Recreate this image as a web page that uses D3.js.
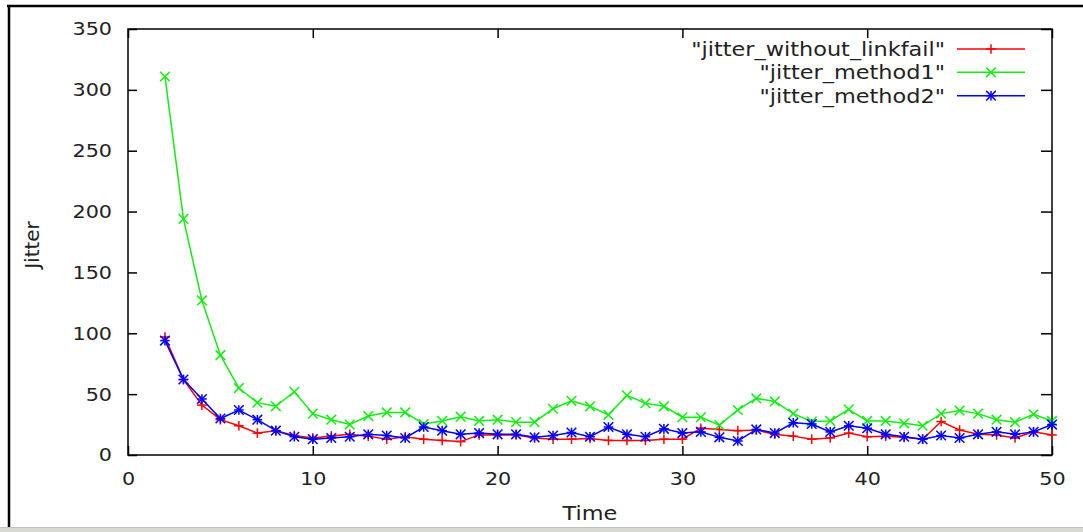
<!DOCTYPE html>
<html>
<head>
<meta charset="utf-8">
<script src="https://cdn.jsdelivr.net/npm/d3@7"></script>
<style>
  html, body { margin: 0; padding: 0; background: #fff; }
  svg { display: block; }
  text { font-family: "DejaVu Sans", sans-serif; fill: #222; }
</style>
</head>
<body>
<svg id="chart" width="1083" height="532"></svg>
<script>
// ---- data ----
const times = [2,3,4,5,6,7,8,9,10,11,12,13,14,15,16,17,18,19,20,21,22,23,24,25,26,27,28,29,30,31,32,33,34,35,36,37,38,39,40,41,42,43,44,45,46,47,48,49,50];
const jitterWithoutLinkfail = [97,62,41,29,24,18,20,16,14,15.6,17,15.5,13,15,13,12,11,16.5,16.5,16.5,14,13,13,13.5,12,12,12,13,13,22,21,20,20.5,17,15.5,13,14,18,15,15.5,14.5,13,27.5,20.5,17,16.5,14,19,16.5];
const jitterMethod1 = [311,194,127,82,55,43,40,52,34,29,25,32,35,35,25.5,28,31.5,28,29,27,27,38,44.5,40,33,49,42.5,40,31,31,24.5,37,46.5,44,34,27.5,28,37.5,28,28,26,24,34,36.5,34,29,27,33.5,28];
const jitterMethod2 = [94,62,46,30,37,29,20,15,13,14,15,17,16,14,23,20,17,18,17,17,14.5,16,18.5,15,23,17,15,21.5,18,19,14.5,11.5,21,18,26.5,25.5,19,24,22,17,15,13,16,14,17,19,17,19,25];
const seriesNames = ['"jitter_without_linkfail"', '"jitter_method1"', '"jitter_method2"'];
const seriesColors = ["#ff0000", "#11ee11", "#0000ff"];
const seriesMarkers = ["plus", "cross", "star"];
const xTicks = [0,10,20,30,40,50];
const yTicks = [0,50,100,150,200,250,300,350];
const xLabel = "Time";
const yLabel = "Jitter";

// ---- layout ----
const svg = d3.select("#chart");
const L = 128, R = 1052, T = 29, B = 455;
const x = d3.scaleLinear().domain([0, 50]).range([L, R]);
const y = d3.scaleLinear().domain([0, 350]).range([B, T]);
const SX = 1.12; // horizontal stretch of the text in the reference

// outer frame of the screenshot
svg.append("rect").attr("x", 0).attr("y", 527).attr("width", 1083).attr("height", 5).attr("fill", "#d9d9d4");
svg.append("line").attr("x1", 0).attr("x2", 1083).attr("y1", 527.5).attr("y2", 527.5).attr("stroke", "#c4c4bf").attr("stroke-width", 1);
svg.append("line").attr("x1", 7).attr("x2", 1083).attr("y1", 6).attr("y2", 6).attr("stroke", "#000").attr("stroke-width", 2.5);
svg.append("line").attr("x1", 9).attr("x2", 9).attr("y1", 5).attr("y2", 527).attr("stroke", "#000").attr("stroke-width", 2.5);

// axes (ticks point inward, gnuplot style)
const gLeft = svg.append("g").attr("transform", `translate(${L},0)`)
  .call(d3.axisLeft(y).tickValues(yTicks).tickSize(-9).tickPadding(16).tickFormat(d3.format("d")));
const gRight = svg.append("g").attr("transform", `translate(${R},0)`)
  .call(d3.axisRight(y).tickValues(yTicks).tickSize(-11).tickFormat(""));
const gBottom = svg.append("g").attr("transform", `translate(0,${B})`)
  .call(d3.axisBottom(x).tickValues(xTicks).tickSize(-9).tickPadding(17).tickFormat(d3.format("d")));
const gTop = svg.append("g").attr("transform", `translate(0,${T})`)
  .call(d3.axisTop(x).tickValues(xTicks).tickSize(-9).tickFormat(""));
[gLeft, gRight, gBottom, gTop].forEach(g => {
  g.select(".domain").remove();
  g.selectAll(".tick line").attr("stroke", "#000").attr("stroke-width", 1.5);
  g.selectAll(".tick text").attr("font-family", "DejaVu Sans").attr("font-size", 18.5).attr("fill", "#222");
});
gLeft.selectAll(".tick text").attr("x", -16 / SX).attr("transform", `scale(${SX},1)`);
gBottom.selectAll(".tick text").attr("transform", `scale(${SX},1)`);

// plot frame
svg.append("rect").attr("x", L).attr("y", T).attr("width", R - L).attr("height", B - T)
  .attr("fill", "none").attr("stroke", "#000").attr("stroke-width", 1.5);

// axis labels
svg.append("text").attr("transform", `translate(${(L + R) / 2},520) scale(${SX},1)`)
  .attr("text-anchor", "middle").attr("font-size", 20).text(xLabel);
svg.append("text").attr("transform", `translate(39,245) rotate(-90)`)
  .attr("text-anchor", "middle").attr("font-size", 20).text(yLabel);

// markers
function marker(sel, type, cx, cy, color) {
  const s = 4.8;
  const g = sel.append("g").attr("transform", `translate(${cx},${cy})`)
    .attr("stroke", color).attr("stroke-width", 1.5).attr("fill", "none");
  const segs = [];
  if (type === "plus" || type === "star") { segs.push([-s,0,s,0]); segs.push([0,-s,0,s]); }
  if (type === "cross" || type === "star") { segs.push([-s,-s,s,s]); segs.push([-s,s,s,-s]); }
  segs.forEach(p => g.append("line").attr("x1", p[0]).attr("y1", p[1]).attr("x2", p[2]).attr("y2", p[3]));
}

const allSeries = [jitterWithoutLinkfail, jitterMethod1, jitterMethod2];
const line = d3.line().x((d, i) => x(times[i])).y(d => y(d));
const plot = svg.append("g");
allSeries.forEach((vals, k) => {
  plot.append("path").datum(vals).attr("d", line)
    .attr("fill", "none").attr("stroke", seriesColors[k]).attr("stroke-width", 1.5);
  vals.forEach((v, i) => marker(plot, seriesMarkers[k], x(times[i]), y(v), seriesColors[k]));
});

// legend
const legY = [49, 72.3, 95.7];
seriesNames.forEach((name, k) => {
  svg.append("text").attr("transform", `translate(945,${legY[k] + 7}) scale(1.12,1)`)
    .attr("text-anchor", "end").attr("font-size", 20).text(name);
  svg.append("line").attr("x1", 957).attr("x2", 1025).attr("y1", legY[k]).attr("y2", legY[k])
    .attr("stroke", seriesColors[k]).attr("stroke-width", 1.5);
  marker(svg, seriesMarkers[k], 991, legY[k], seriesColors[k]);
});
</script>
</body>
</html>
